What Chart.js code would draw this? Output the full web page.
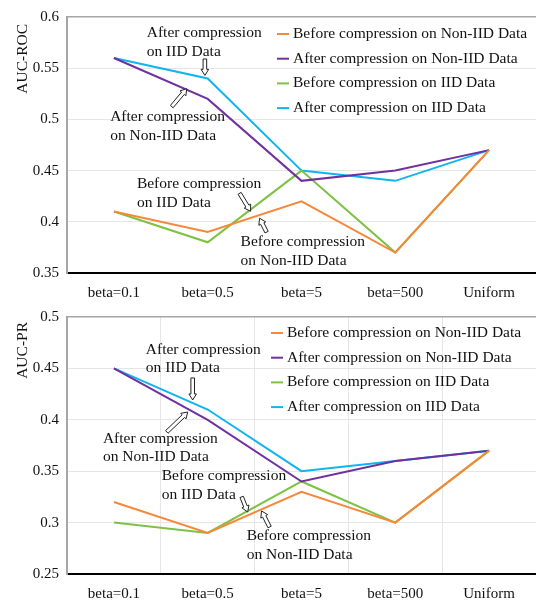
<!DOCTYPE html>
<html>
<head>
<meta charset="utf-8">
<script src="https://cdn.jsdelivr.net/npm/chart.js@4.4.1/dist/chart.umd.min.js"></script>
<style>
  body { margin: 0; background: #fff; font-family: 'Liberation Serif', serif; }
  .box { width: 536px; height: 300px; }
  .probe { position: absolute; left: -999px; top: 0; font: 15px 'Liberation Serif'; }
</style>
</head>
<body>
<span class="probe">After compression</span>
<div class="box"><canvas id="rocChart" width="536" height="300"></canvas></div>
<div class="box"><canvas id="prChart" width="536" height="300"></canvas></div>
<script>
const categories = ['beta=0.1', 'beta=0.5', 'beta=5', 'beta=500', 'Uniform'];
const seriesLabels = [
    'Before compression on Non-IID Data',
    'After compression on Non-IID Data',
    'Before compression on IID Data',
    'After compression on IID Data'
];
const seriesColors = ['#F7883A', '#7030A0', '#7DC242', '#10B4F0'];

// AUC-ROC
const rocBeforeNonIID = [0.41, 0.39, 0.42, 0.37, 0.47];
const rocAfterNonIID = [0.56, 0.52, 0.44, 0.45, 0.47];
const rocBeforeIID = [0.41, 0.38, 0.45, 0.37, 0.47];
const rocAfterIID = [0.56, 0.54, 0.45, 0.44, 0.47];
const rocTicks = [0.35, 0.6, 0.05];

// AUC-PR
const prBeforeNonIID = [0.32, 0.29, 0.33, 0.30, 0.37];
const prAfterNonIID = [0.45, 0.40, 0.34, 0.36, 0.37];
const prBeforeIID = [0.30, 0.29, 0.34, 0.30, 0.37];
const prAfterIID = [0.45, 0.41, 0.35, 0.36, 0.37];
const prTicks = [0.25, 0.5, 0.05];

// callouts: text anchor and arrow (from -> to) in category index / value units
const rocNotes = [
    { lines: ['After compression', 'on IID Data'], at: [0.35, 0.584], from: [0.97, 0.559], to: [0.97, 0.543] },
    { lines: ['After compression', 'on Non-IID Data'], at: [-0.04, 0.502], from: [0.617, 0.5125], to: [0.777, 0.530] },
    { lines: ['Before compression', 'on IID Data'], at: [0.245, 0.4366], from: [1.34, 0.4278], to: [1.457, 0.4103] },
    { lines: ['Before compression', 'on Non-IID Data'], at: [1.351, 0.3802], from: [1.628, 0.3899], to: [1.553, 0.4035] }
];
const prNotes = [
    { lines: ['After compression', 'on IID Data'], at: [0.34, 0.468], from: [0.84, 0.4407], to: [0.84, 0.4193] },
    { lines: ['After compression', 'on Non-IID Data'], at: [-0.117, 0.3814], from: [0.564, 0.3882], to: [0.787, 0.4076] },
    { lines: ['Before compression', 'on IID Data'], at: [0.51, 0.3454], from: [1.362, 0.325], to: [1.426, 0.3103] },
    { lines: ['Before compression', 'on Non-IID Data'], at: [1.415, 0.287], from: [1.66, 0.2957], to: [1.574, 0.3113] }
];

const FONT = "'Liberation Serif', 'DejaVu Serif', serif";

function hollowArrow(ctx, x1, y1, x2, y2) {
    const len = Math.hypot(x2 - x1, y2 - y1);
    const dx = (x2 - x1) / len, dy = (y2 - y1) / len;
    const nx = -dy, ny = dx;
    const w = 1.8, hw = 3.8, hl = 6;
    const bx = x2 - dx * hl, by = y2 - dy * hl;
    ctx.save();
    ctx.beginPath();
    ctx.moveTo(x1 + nx * w, y1 + ny * w);
    ctx.lineTo(bx + nx * w, by + ny * w);
    ctx.lineTo(bx + nx * hw, by + ny * hw);
    ctx.lineTo(x2, y2);
    ctx.lineTo(bx - nx * hw, by - ny * hw);
    ctx.lineTo(bx - nx * w, by - ny * w);
    ctx.lineTo(x1 - nx * w, y1 - ny * w);
    ctx.closePath();
    ctx.fillStyle = '#fff';
    ctx.fill();
    ctx.lineWidth = 1;
    ctx.strokeStyle = '#222';
    ctx.stroke();
    ctx.restore();
}

const extras = {
    id: 'extras',
    afterDatasetsDraw(chart, args, opts) {
        const ctx = chart.ctx;
        const xs = chart.scales.x, ys = chart.scales.y;
        const area = chart.chartArea;
        ctx.save();
        ctx.font = '15.5px ' + FONT;
        ctx.fillStyle = '#111';
        ctx.textBaseline = 'middle';
        ctx.textAlign = 'left';
        opts.notes.forEach(n => {
            const tx = xs.getPixelForValue(n.at[0]);
            const ty = ys.getPixelForValue(n.at[1]);
            n.lines.forEach((l, i) => ctx.fillText(l, tx, ty + i * 18.5));
            hollowArrow(ctx,
                xs.getPixelForValue(n.from[0]), ys.getPixelForValue(n.from[1]),
                xs.getPixelForValue(n.to[0]), ys.getPixelForValue(n.to[1]));
        });
        // legend
        const lx = area.left + opts.legendX;
        const ly = area.top + opts.legendY;
        chart.data.datasets.forEach((ds, i) => {
            const y = ly + i * 24.7;
            ctx.strokeStyle = ds.borderColor;
            ctx.lineWidth = 2;
            ctx.beginPath();
            ctx.moveTo(lx, y);
            ctx.lineTo(lx + 12, y);
            ctx.stroke();
            ctx.fillStyle = '#111';
            ctx.fillText(ds.label, lx + 16, y);
        });
        // y-axis title, pinned near the top
        ctx.translate(27, area.top + opts.titleOffset);
        ctx.rotate(-Math.PI / 2);
        ctx.textAlign = 'right';
        ctx.textBaseline = 'alphabetic';
        ctx.fillText(opts.title, 0, 0);
        ctx.restore();
    }
};

function makeChart(id, title, series, ticks, notes, vGrid, legendX, legendY, topPad, xHeight, titleOffset) {
    const [yMin, yMax, yStep] = ticks;
    return new Chart(document.getElementById(id), {
        type: 'line',
        data: {
            labels: categories,
            datasets: series.map((s, i) => ({
                label: seriesLabels[i],
                data: s,
                borderColor: seriesColors[i],
                backgroundColor: seriesColors[i],
                borderWidth: 2,
                pointRadius: 0,
                tension: 0,
                fill: false
            }))
        },
        options: {
            responsive: false,
            animation: false,
            layout: { padding: { top: topPad, right: 0, left: 0, bottom: 0 } },
            plugins: {
                legend: { display: false },
                tooltip: { enabled: false },
                extras: { notes: notes, legendX: legendX, legendY: legendY, title: title, titleOffset: titleOffset }
            },
            scales: {
                x: {
                    offset: true,
                    grid: { display: vGrid, color: '#e6e6e6', lineWidth: 1, drawTicks: false, offset: true },
                    border: { display: true, color: '#000', width: 2 },
                    ticks: { color: '#111', font: { family: FONT, size: 15 }, padding: 11, maxRotation: 0 },
                    afterFit(scale) { scale.height = xHeight; }
                },
                y: {
                    min: yMin,
                    max: yMax,
                    grid: {
                        drawTicks: false,
                        color: c => (c.tick && Math.abs(c.tick.value - yMax) < 1e-6) ? '#a6a6a6' : '#e6e6e6',
                        lineWidth: c => (c.tick && Math.abs(c.tick.value - yMax) < 1e-6) ? 1.5 : 1
                    },
                    border: { display: true, color: '#a6a6a6', width: 2 },
                    ticks: {
                        stepSize: yStep,
                        color: '#111',
                        font: { family: FONT, size: 15 },
                        padding: 8,
                        callback: v => String(Number(v.toFixed(2)))
                    },
                    afterFit(scale) { scale.width = 67; }
                }
            }
        },
        plugins: [extras]
    });
}

function drawAll() {
    makeChart('rocChart', 'AUC-ROC',
        [rocBeforeNonIID, rocAfterNonIID, rocBeforeIID, rocAfterIID],
        rocTicks, rocNotes, false, 210, 17, 16, 27, 7);

    makeChart('prChart', 'AUC-PR',
        [prBeforeNonIID, prAfterNonIID, prBeforeIID, prAfterIID],
        prTicks, prNotes, true, 204, 16, 17, 26, 5);
}

document.fonts.load("15px 'Liberation Serif'").then(drawAll, drawAll);
</script>
</body>
</html>
